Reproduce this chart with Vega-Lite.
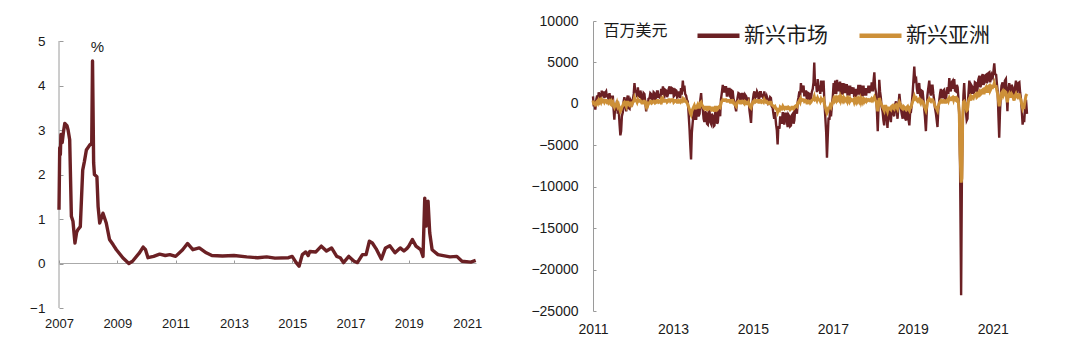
{
"$schema":"https://vega.github.io/schema/vega-lite/v6.json",
"background":"white",
"padding":{"left":29,"top":12,"right":5,"bottom":5},
"bounds":"flush",
"spacing":117,
"config":{"view":{"stroke":null},"font":"Liberation Sans","axis":{"labelFont":"Liberation Sans","labelFontSize":14,"labelColor":"#1a1a1a","domainColor":"#9a9a9a","tickColor":"#9a9a9a","grid":false,"titleFontWeight":"normal","titleColor":"#1a1a1a"}},
"datasets":{
"pct":[
{"d":"2007-01-01","v":1.21},{"d":"2007-01-10","v":2.6},{"d":"2007-01-18","v":2.45},{"d":"2007-01-25","v":2.9},{"d":"2007-02-10","v":2.72},{"d":"2007-02-25","v":2.95},{"d":"2007-03-15","v":3.15},{"d":"2007-04-10","v":3.1},{"d":"2007-04-25","v":3.0},{"d":"2007-05-15","v":2.78},{"d":"2007-06-05","v":1.06},{"d":"2007-06-25","v":0.95},{"d":"2007-07-20","v":0.46},{"d":"2007-08-10","v":0.7},{"d":"2007-08-25","v":0.76},{"d":"2007-09-25","v":0.83},{"d":"2007-10-25","v":2.1},{"d":"2007-11-15","v":2.29},{"d":"2007-12-10","v":2.55},{"d":"2008-01-20","v":2.66},{"d":"2008-02-15","v":2.7},{"d":"2008-02-25","v":4.55},{"d":"2008-03-10","v":2.26},{"d":"2008-03-20","v":2.0},{"d":"2008-04-20","v":1.95},{"d":"2008-05-05","v":1.28},{"d":"2008-05-25","v":0.91},{"d":"2008-07-05","v":1.13},{"d":"2008-08-15","v":0.91},{"d":"2008-09-25","v":0.54},{"d":"2008-11-10","v":0.42},{"d":"2008-12-20","v":0.31},{"d":"2009-03-10","v":0.13},{"d":"2009-05-25","v":0.0},{"d":"2009-07-10","v":0.05},{"d":"2009-10-05","v":0.24},{"d":"2009-11-20","v":0.37},{"d":"2009-12-20","v":0.31},{"d":"2010-01-20","v":0.13},{"d":"2010-04-01","v":0.16},{"d":"2010-06-15","v":0.21},{"d":"2010-08-25","v":0.18},{"d":"2010-10-20","v":0.2},{"d":"2011-01-01","v":0.16},{"d":"2011-03-30","v":0.31},{"d":"2011-05-30","v":0.45},{"d":"2011-08-05","v":0.31},{"d":"2011-10-25","v":0.35},{"d":"2012-01-20","v":0.24},{"d":"2012-03-30","v":0.18},{"d":"2012-08-10","v":0.17},{"d":"2013-01-01","v":0.18},{"d":"2013-06-10","v":0.15},{"d":"2013-10-25","v":0.13},{"d":"2014-02-15","v":0.15},{"d":"2014-05-30","v":0.12},{"d":"2014-11-15","v":0.13},{"d":"2015-01-01","v":0.16},{"d":"2015-02-20","v":0.02},{"d":"2015-03-28","v":-0.06},{"d":"2015-05-08","v":0.2},{"d":"2015-06-20","v":0.26},{"d":"2015-07-20","v":0.18},{"d":"2015-08-10","v":0.27},{"d":"2015-10-25","v":0.26},{"d":"2016-01-01","v":0.39},{"d":"2016-03-05","v":0.28},{"d":"2016-05-08","v":0.35},{"d":"2016-07-12","v":0.16},{"d":"2016-08-25","v":0.13},{"d":"2016-10-05","v":0.02},{"d":"2016-12-10","v":0.16},{"d":"2017-02-14","v":0.05},{"d":"2017-03-28","v":0.02},{"d":"2017-05-30","v":0.2},{"d":"2017-07-15","v":0.2},{"d":"2017-08-25","v":0.5},{"d":"2017-10-01","v":0.46},{"d":"2017-11-18","v":0.33},{"d":"2018-01-22","v":0.1},{"d":"2018-03-15","v":0.35},{"d":"2018-05-08","v":0.4},{"d":"2018-07-12","v":0.24},{"d":"2018-09-15","v":0.35},{"d":"2018-11-01","v":0.28},{"d":"2018-12-10","v":0.34},{"d":"2019-01-01","v":0.39},{"d":"2019-02-15","v":0.54},{"d":"2019-04-01","v":0.39},{"d":"2019-05-30","v":0.31},{"d":"2019-06-28","v":0.16},{"d":"2019-07-20","v":1.47},{"d":"2019-08-05","v":0.84},{"d":"2019-08-30","v":1.4},{"d":"2019-09-20","v":0.69},{"d":"2019-10-20","v":0.31},{"d":"2020-01-01","v":0.2},{"d":"2020-05-30","v":0.15},{"d":"2020-08-25","v":0.16},{"d":"2020-10-28","v":0.05},{"d":"2021-02-15","v":0.03},{"d":"2021-04-18","v":0.07}
],
"flows":[
{"d":"2011-01-01","e":900,"a":400},{"d":"2011-01-08","e":-300,"a":-100},{"d":"2011-01-15","e":400,"a":200},{"d":"2011-01-22","e":-700,"a":-300},
{"d":"2011-02-01","e":600,"a":200},{"d":"2011-02-08","e":1000,"a":300},{"d":"2011-02-15","e":300,"a":100},{"d":"2011-02-22","e":1400,"a":400},
{"d":"2011-03-01","e":800,"a":200},{"d":"2011-03-08","e":1300,"a":400},{"d":"2011-03-15","e":500,"a":200},{"d":"2011-03-22","e":1600,"a":500},
{"d":"2011-04-01","e":900,"a":300},{"d":"2011-04-08","e":1500,"a":400},{"d":"2011-04-15","e":700,"a":200},{"d":"2011-04-22","e":1300,"a":400},
{"d":"2011-05-01","e":1500,"a":400},{"d":"2011-05-08","e":800,"a":200},{"d":"2011-05-15","e":1200,"a":300},{"d":"2011-05-22","e":500,"a":100},
{"d":"2011-06-01","e":1300,"a":300},{"d":"2011-06-08","e":400,"a":100},{"d":"2011-06-15","e":1000,"a":300},{"d":"2011-06-22","e":200,"a":0},
{"d":"2011-07-01","e":1000,"a":200},{"d":"2011-07-08","e":-600,"a":-200},{"d":"2011-07-15","e":-1900,"a":-400},{"d":"2011-07-22","e":-400,"a":-100},
{"d":"2011-08-01","e":-800,"a":-200},{"d":"2011-08-08","e":400,"a":100},{"d":"2011-08-15","e":-1200,"a":-300},{"d":"2011-08-22","e":-300,"a":-100},
{"d":"2011-09-01","e":-2500,"a":-600},{"d":"2011-09-08","e":-3800,"a":-900},{"d":"2011-09-15","e":-3300,"a":-700},{"d":"2011-09-22","e":-1500,"a":-400},
{"d":"2011-10-01","e":-1000,"a":-200},{"d":"2011-10-08","e":300,"a":100},{"d":"2011-10-15","e":800,"a":200},{"d":"2011-10-22","e":-200,"a":0},
{"d":"2011-11-01","e":-900,"a":-300},{"d":"2011-11-08","e":600,"a":200},{"d":"2011-11-15","e":1000,"a":200},{"d":"2011-11-22","e":-500,"a":-100},
{"d":"2011-12-01","e":-600,"a":-200},{"d":"2011-12-08","e":500,"a":100},{"d":"2011-12-15","e":300,"a":100},{"d":"2011-12-22","e":-300,"a":-100},
{"d":"2012-01-01","e":600,"a":200},{"d":"2012-01-08","e":1200,"a":300},{"d":"2012-01-15","e":2500,"a":700},{"d":"2012-01-22","e":1500,"a":400},
{"d":"2012-02-01","e":1500,"a":400},{"d":"2012-02-08","e":800,"a":200},{"d":"2012-02-15","e":2000,"a":500},{"d":"2012-02-22","e":1000,"a":300},
{"d":"2012-03-01","e":900,"a":300},{"d":"2012-03-08","e":1600,"a":400},{"d":"2012-03-15","e":1300,"a":300},{"d":"2012-03-22","e":500,"a":100},
{"d":"2012-04-01","e":400,"a":100},{"d":"2012-04-08","e":1300,"a":300},{"d":"2012-04-15","e":1200,"a":300},{"d":"2012-04-22","e":300,"a":100},
{"d":"2012-05-01","e":-900,"a":-300},{"d":"2012-05-08","e":200,"a":0},{"d":"2012-05-15","e":-400,"a":-200},{"d":"2012-05-22","e":600,"a":100},
{"d":"2012-06-01","e":700,"a":100},{"d":"2012-06-08","e":1300,"a":300},{"d":"2012-06-15","e":1200,"a":300},{"d":"2012-06-22","e":400,"a":100},
{"d":"2012-07-01","e":600,"a":200},{"d":"2012-07-08","e":1400,"a":300},{"d":"2012-07-15","e":1300,"a":300},{"d":"2012-07-22","e":500,"a":100},
{"d":"2012-08-01","e":800,"a":200},{"d":"2012-08-08","e":1500,"a":400},{"d":"2012-08-15","e":1500,"a":400},{"d":"2012-08-22","e":700,"a":200},
{"d":"2012-09-01","e":1200,"a":300},{"d":"2012-09-08","e":600,"a":200},{"d":"2012-09-15","e":1800,"a":500},{"d":"2012-09-22","e":1100,"a":300},
{"d":"2012-10-01","e":2100,"a":600},{"d":"2012-10-08","e":1200,"a":300},{"d":"2012-10-15","e":1000,"a":300},{"d":"2012-10-22","e":1700,"a":400},
{"d":"2012-11-01","e":1600,"a":400},{"d":"2012-11-08","e":800,"a":200},{"d":"2012-11-15","e":1100,"a":300},{"d":"2012-11-22","e":1800,"a":500},
{"d":"2012-12-01","e":2100,"a":500},{"d":"2012-12-08","e":1300,"a":300},{"d":"2012-12-15","e":1300,"a":400},{"d":"2012-12-22","e":1900,"a":500},
{"d":"2013-01-01","e":1800,"a":500},{"d":"2013-01-08","e":900,"a":200},{"d":"2013-01-15","e":1000,"a":300},{"d":"2013-01-22","e":1700,"a":400},
{"d":"2013-02-01","e":1600,"a":400},{"d":"2013-02-08","e":800,"a":200},{"d":"2013-02-15","e":900,"a":200},{"d":"2013-02-22","e":1500,"a":400},
{"d":"2013-03-01","e":1200,"a":300},{"d":"2013-03-08","e":700,"a":200},{"d":"2013-03-15","e":1900,"a":400},{"d":"2013-03-22","e":1100,"a":300},
{"d":"2013-04-01","e":2800,"a":600},{"d":"2013-04-08","e":1500,"a":400},{"d":"2013-04-15","e":2200,"a":500},{"d":"2013-04-22","e":1200,"a":300},
{"d":"2013-05-01","e":1000,"a":300},{"d":"2013-05-08","e":500,"a":100},{"d":"2013-05-15","e":300,"a":0},{"d":"2013-05-22","e":-800,"a":-300},
{"d":"2013-06-01","e":-3000,"a":-700},{"d":"2013-06-08","e":-5000,"a":-1100},{"d":"2013-06-15","e":-6700,"a":-1300},{"d":"2013-06-22","e":-3500,"a":-900},
{"d":"2013-07-01","e":-2100,"a":-600},{"d":"2013-07-08","e":-1200,"a":-400},{"d":"2013-07-15","e":-400,"a":-200},{"d":"2013-07-22","e":-1800,"a":-500},
{"d":"2013-08-01","e":-1800,"a":-500},{"d":"2013-08-08","e":-700,"a":-300},{"d":"2013-08-15","e":-300,"a":-100},{"d":"2013-08-22","e":-1500,"a":-400},
{"d":"2013-09-01","e":-1200,"a":-400},{"d":"2013-09-08","e":500,"a":100},{"d":"2013-09-15","e":1300,"a":200},{"d":"2013-09-22","e":-200,"a":-100},
{"d":"2013-10-01","e":-800,"a":-300},{"d":"2013-10-08","e":-1800,"a":-500},{"d":"2013-10-15","e":-2200,"a":-600},{"d":"2013-10-22","e":-900,"a":-400},
{"d":"2013-11-01","e":-1200,"a":-400},{"d":"2013-11-08","e":-2400,"a":-700},{"d":"2013-11-15","e":-2500,"a":-700},{"d":"2013-11-22","e":-1000,"a":-400},
{"d":"2013-12-01","e":-900,"a":-400},{"d":"2013-12-08","e":-2200,"a":-600},{"d":"2013-12-15","e":-2400,"a":-700},{"d":"2013-12-22","e":-1200,"a":-500},
{"d":"2014-01-01","e":-1500,"a":-500},{"d":"2014-01-08","e":-2700,"a":-800},{"d":"2014-01-15","e":-2600,"a":-800},{"d":"2014-01-22","e":-1100,"a":-400},
{"d":"2014-02-01","e":-1000,"a":-400},{"d":"2014-02-08","e":-2400,"a":-700},{"d":"2014-02-15","e":-2200,"a":-600},{"d":"2014-02-22","e":-900,"a":-400},
{"d":"2014-03-01","e":-800,"a":-300},{"d":"2014-03-08","e":-1500,"a":-400},{"d":"2014-03-15","e":500,"a":0},{"d":"2014-03-22","e":1200,"a":300},
{"d":"2014-04-01","e":2300,"a":500},{"d":"2014-04-08","e":1500,"a":400},{"d":"2014-04-15","e":1500,"a":400},{"d":"2014-04-22","e":2000,"a":500},
{"d":"2014-05-01","e":2000,"a":500},{"d":"2014-05-08","e":1000,"a":300},{"d":"2014-05-15","e":1000,"a":300},{"d":"2014-05-22","e":1800,"a":400},
{"d":"2014-06-01","e":1800,"a":400},{"d":"2014-06-08","e":900,"a":200},{"d":"2014-06-15","e":700,"a":200},{"d":"2014-06-22","e":1600,"a":400},
{"d":"2014-07-01","e":1500,"a":400},{"d":"2014-07-08","e":600,"a":100},{"d":"2014-07-15","e":300,"a":100},{"d":"2014-07-22","e":-200,"a":-100},
{"d":"2014-08-01","e":-900,"a":-300},{"d":"2014-08-08","e":200,"a":0},{"d":"2014-08-15","e":800,"a":200},{"d":"2014-08-22","e":1300,"a":300},
{"d":"2014-09-01","e":1200,"a":300},{"d":"2014-09-08","e":500,"a":100},{"d":"2014-09-15","e":600,"a":100},{"d":"2014-09-22","e":1200,"a":300},
{"d":"2014-10-01","e":1200,"a":300},{"d":"2014-10-08","e":400,"a":100},{"d":"2014-10-15","e":300,"a":0},{"d":"2014-10-22","e":1100,"a":300},
{"d":"2014-11-01","e":900,"a":200},{"d":"2014-11-08","e":200,"a":0},{"d":"2014-11-15","e":200,"a":0},{"d":"2014-11-22","e":800,"a":200},
{"d":"2014-12-01","e":-800,"a":-200},{"d":"2014-12-08","e":-1500,"a":-400},{"d":"2014-12-15","e":-2300,"a":-500},{"d":"2014-12-22","e":-400,"a":-100},
{"d":"2015-01-01","e":500,"a":200},{"d":"2015-01-08","e":1200,"a":300},{"d":"2015-01-15","e":1500,"a":400},{"d":"2015-01-22","e":700,"a":200},
{"d":"2015-02-01","e":900,"a":300},{"d":"2015-02-08","e":1500,"a":400},{"d":"2015-02-15","e":1300,"a":400},{"d":"2015-02-22","e":600,"a":200},
{"d":"2015-03-01","e":700,"a":200},{"d":"2015-03-08","e":1400,"a":400},{"d":"2015-03-15","e":1400,"a":400},{"d":"2015-03-22","e":800,"a":200},
{"d":"2015-04-01","e":1200,"a":300},{"d":"2015-04-08","e":600,"a":200},{"d":"2015-04-15","e":1500,"a":500},{"d":"2015-04-22","e":900,"a":300},
{"d":"2015-05-01","e":500,"a":200},{"d":"2015-05-08","e":900,"a":300},{"d":"2015-05-15","e":600,"a":200},{"d":"2015-05-22","e":100,"a":0},
{"d":"2015-06-01","e":300,"a":0},{"d":"2015-06-08","e":800,"a":200},{"d":"2015-06-15","e":700,"a":200},{"d":"2015-06-22","e":-300,"a":-100},
{"d":"2015-07-01","e":-500,"a":-200},{"d":"2015-07-08","e":-1200,"a":-300},{"d":"2015-07-15","e":-1800,"a":-400},{"d":"2015-07-22","e":-1000,"a":-300},
{"d":"2015-08-01","e":-2500,"a":-600},{"d":"2015-08-08","e":-3200,"a":-700},{"d":"2015-08-15","e":-4900,"a":-1000},{"d":"2015-08-22","e":-2700,"a":-700},
{"d":"2015-09-01","e":-3000,"a":-800},{"d":"2015-09-08","e":-1500,"a":-400},{"d":"2015-09-15","e":-1800,"a":-500},{"d":"2015-09-22","e":-2400,"a":-600},
{"d":"2015-10-01","e":-1000,"a":-300},{"d":"2015-10-08","e":-2000,"a":-500},{"d":"2015-10-15","e":-2500,"a":-600},{"d":"2015-10-22","e":-1200,"a":-400},
{"d":"2015-11-01","e":-1200,"a":-400},{"d":"2015-11-08","e":-2200,"a":-600},{"d":"2015-11-15","e":-2800,"a":-600},{"d":"2015-11-22","e":-1300,"a":-400},
{"d":"2015-12-01","e":-1500,"a":-500},{"d":"2015-12-08","e":-2700,"a":-700},{"d":"2015-12-15","e":-2600,"a":-600},{"d":"2015-12-22","e":-1400,"a":-400},
{"d":"2016-01-01","e":-1200,"a":-400},{"d":"2016-01-08","e":-2400,"a":-600},{"d":"2016-01-15","e":-2000,"a":-500},{"d":"2016-01-22","e":-800,"a":-300},
{"d":"2016-02-01","e":-600,"a":-200},{"d":"2016-02-08","e":-1200,"a":-300},{"d":"2016-02-15","e":300,"a":100},{"d":"2016-02-22","e":800,"a":200},
{"d":"2016-03-01","e":1500,"a":400},{"d":"2016-03-08","e":800,"a":200},{"d":"2016-03-15","e":2500,"a":600},{"d":"2016-03-22","e":1400,"a":400},
{"d":"2016-04-01","e":1800,"a":500},{"d":"2016-04-08","e":2200,"a":500},{"d":"2016-04-15","e":900,"a":300},{"d":"2016-04-22","e":1500,"a":400},
{"d":"2016-05-01","e":1500,"a":400},{"d":"2016-05-08","e":500,"a":100},{"d":"2016-05-15","e":600,"a":100},{"d":"2016-05-22","e":1300,"a":300},
{"d":"2016-06-01","e":1200,"a":300},{"d":"2016-06-08","e":300,"a":100},{"d":"2016-06-15","e":600,"a":200},{"d":"2016-06-22","e":1400,"a":400},
{"d":"2016-07-01","e":1800,"a":500},{"d":"2016-07-08","e":2600,"a":600},{"d":"2016-07-15","e":5000,"a":900},{"d":"2016-07-22","e":2200,"a":500},
{"d":"2016-08-01","e":2500,"a":600},{"d":"2016-08-08","e":1400,"a":400},{"d":"2016-08-15","e":3000,"a":700},{"d":"2016-08-22","e":1800,"a":500},
{"d":"2016-09-01","e":2000,"a":500},{"d":"2016-09-08","e":1200,"a":300},{"d":"2016-09-15","e":2800,"a":600},{"d":"2016-09-22","e":1500,"a":400},
{"d":"2016-10-01","e":2200,"a":500},{"d":"2016-10-08","e":2800,"a":600},{"d":"2016-10-15","e":400,"a":0},{"d":"2016-10-22","e":-1200,"a":-300},
{"d":"2016-11-01","e":-3500,"a":-800},{"d":"2016-11-08","e":-6500,"a":-1100},{"d":"2016-11-15","e":-4000,"a":-900},{"d":"2016-11-22","e":-1800,"a":-500},
{"d":"2016-12-01","e":-1800,"a":-500},{"d":"2016-12-08","e":-600,"a":-200},{"d":"2016-12-15","e":-1500,"a":-400},{"d":"2016-12-22","e":-400,"a":-100},
{"d":"2017-01-01","e":1000,"a":300},{"d":"2017-01-08","e":2500,"a":600},{"d":"2017-01-15","e":1200,"a":400},{"d":"2017-01-22","e":2800,"a":700},
{"d":"2017-02-01","e":1200,"a":400},{"d":"2017-02-08","e":2900,"a":700},{"d":"2017-02-15","e":1500,"a":500},{"d":"2017-02-22","e":2600,"a":700},
{"d":"2017-03-01","e":1500,"a":500},{"d":"2017-03-08","e":2700,"a":800},{"d":"2017-03-15","e":1100,"a":400},{"d":"2017-03-22","e":2500,"a":700},
{"d":"2017-04-01","e":1100,"a":400},{"d":"2017-04-08","e":2500,"a":700},{"d":"2017-04-15","e":1300,"a":400},{"d":"2017-04-22","e":2400,"a":600},
{"d":"2017-05-01","e":1300,"a":400},{"d":"2017-05-08","e":2400,"a":600},{"d":"2017-05-15","e":1000,"a":300},{"d":"2017-05-22","e":2200,"a":600},
{"d":"2017-06-01","e":1000,"a":300},{"d":"2017-06-08","e":2200,"a":600},{"d":"2017-06-15","e":1200,"a":400},{"d":"2017-06-22","e":2000,"a":500},
{"d":"2017-07-01","e":1200,"a":400},{"d":"2017-07-08","e":2000,"a":500},{"d":"2017-07-15","e":800,"a":200},{"d":"2017-07-22","e":1800,"a":500},
{"d":"2017-08-01","e":800,"a":200},{"d":"2017-08-08","e":1800,"a":500},{"d":"2017-08-15","e":1100,"a":300},{"d":"2017-08-22","e":2300,"a":600},
{"d":"2017-09-01","e":1100,"a":300},{"d":"2017-09-08","e":2300,"a":600},{"d":"2017-09-15","e":900,"a":200},{"d":"2017-09-22","e":2200,"a":500},
{"d":"2017-10-01","e":900,"a":200},{"d":"2017-10-08","e":2200,"a":500},{"d":"2017-10-15","e":1000,"a":300},{"d":"2017-10-22","e":1900,"a":500},
{"d":"2017-11-01","e":1000,"a":300},{"d":"2017-11-08","e":1900,"a":500},{"d":"2017-11-15","e":1300,"a":400},{"d":"2017-11-22","e":2200,"a":500},
{"d":"2017-12-01","e":1300,"a":400},{"d":"2017-12-08","e":2200,"a":500},{"d":"2017-12-15","e":1500,"a":400},{"d":"2017-12-22","e":2600,"a":600},
{"d":"2018-01-01","e":1500,"a":400},{"d":"2018-01-08","e":2800,"a":600},{"d":"2018-01-15","e":3800,"a":800},{"d":"2018-01-22","e":2000,"a":500},
{"d":"2018-02-01","e":1200,"a":300},{"d":"2018-02-08","e":-1000,"a":-300},{"d":"2018-02-15","e":-3300,"a":-900},{"d":"2018-02-22","e":-500,"a":-200},
{"d":"2018-03-01","e":2900,"a":700},{"d":"2018-03-08","e":1500,"a":400},{"d":"2018-03-15","e":800,"a":100},{"d":"2018-03-22","e":-300,"a":-100},
{"d":"2018-04-01","e":-1000,"a":-400},{"d":"2018-04-08","e":-2000,"a":-600},{"d":"2018-04-15","e":-2600,"a":-800},{"d":"2018-04-22","e":-800,"a":-300},
{"d":"2018-05-01","e":-500,"a":-300},{"d":"2018-05-08","e":-1800,"a":-600},{"d":"2018-05-15","e":-2900,"a":-900},{"d":"2018-05-22","e":-1200,"a":-500},
{"d":"2018-06-01","e":-800,"a":-500},{"d":"2018-06-08","e":-1700,"a":-600},{"d":"2018-06-15","e":-2200,"a":-700},{"d":"2018-06-22","e":-600,"a":-300},
{"d":"2018-07-01","e":-300,"a":-200},{"d":"2018-07-08","e":-1200,"a":-500},{"d":"2018-07-15","e":-1500,"a":-600},{"d":"2018-07-22","e":-200,"a":-200},
{"d":"2018-08-01","e":300,"a":-100},{"d":"2018-08-08","e":-900,"a":-400},{"d":"2018-08-15","e":-1800,"a":-600},{"d":"2018-08-22","e":-400,"a":-200},
{"d":"2018-09-01","e":1200,"a":200},{"d":"2018-09-08","e":200,"a":0},{"d":"2018-09-15","e":-600,"a":-300},{"d":"2018-09-22","e":-1200,"a":-500},
{"d":"2018-10-01","e":-1800,"a":-600},{"d":"2018-10-08","e":-700,"a":-300},{"d":"2018-10-15","e":-900,"a":-400},{"d":"2018-10-22","e":-1700,"a":-600},
{"d":"2018-11-01","e":-2000,"a":-700},{"d":"2018-11-08","e":-900,"a":-400},{"d":"2018-11-15","e":-700,"a":-300},{"d":"2018-11-22","e":-1800,"a":-600},
{"d":"2018-12-01","e":-2600,"a":-800},{"d":"2018-12-08","e":-1100,"a":-400},{"d":"2018-12-15","e":-1000,"a":-400},{"d":"2018-12-22","e":-200,"a":-100},
{"d":"2019-01-01","e":1500,"a":300},{"d":"2019-01-08","e":3000,"a":600},{"d":"2019-01-15","e":4500,"a":900},{"d":"2019-01-22","e":2800,"a":600},
{"d":"2019-02-01","e":3000,"a":700},{"d":"2019-02-08","e":1800,"a":400},{"d":"2019-02-15","e":1200,"a":300},{"d":"2019-02-22","e":2200,"a":500},
{"d":"2019-03-01","e":2500,"a":600},{"d":"2019-03-08","e":1200,"a":300},{"d":"2019-03-15","e":500,"a":100},{"d":"2019-03-22","e":1600,"a":400},
{"d":"2019-04-01","e":1500,"a":300},{"d":"2019-04-08","e":600,"a":100},{"d":"2019-04-15","e":-500,"a":-300},{"d":"2019-04-22","e":-1500,"a":-500},
{"d":"2019-05-01","e":-3300,"a":-800},{"d":"2019-05-08","e":-1200,"a":-400},{"d":"2019-05-15","e":1000,"a":200},{"d":"2019-05-22","e":1800,"a":400},
{"d":"2019-06-01","e":2800,"a":600},{"d":"2019-06-08","e":1500,"a":400},{"d":"2019-06-15","e":1000,"a":300},{"d":"2019-06-22","e":2200,"a":500},
{"d":"2019-07-01","e":2200,"a":500},{"d":"2019-07-08","e":1200,"a":300},{"d":"2019-07-15","e":500,"a":100},{"d":"2019-07-22","e":-400,"a":-200},
{"d":"2019-08-01","e":-1200,"a":-500},{"d":"2019-08-08","e":-2000,"a":-600},{"d":"2019-08-15","e":-2800,"a":-800},{"d":"2019-08-22","e":-800,"a":-300},
{"d":"2019-09-01","e":500,"a":100},{"d":"2019-09-08","e":1300,"a":300},{"d":"2019-09-15","e":1800,"a":400},{"d":"2019-09-22","e":800,"a":200},
{"d":"2019-10-01","e":800,"a":200},{"d":"2019-10-08","e":1600,"a":400},{"d":"2019-10-15","e":1700,"a":400},{"d":"2019-10-22","e":700,"a":200},
{"d":"2019-11-01","e":600,"a":200},{"d":"2019-11-08","e":1500,"a":400},{"d":"2019-11-15","e":2000,"a":500},{"d":"2019-11-22","e":1200,"a":300},
{"d":"2019-12-01","e":3100,"a":700},{"d":"2019-12-08","e":2000,"a":500},{"d":"2019-12-15","e":1500,"a":500},{"d":"2019-12-22","e":2600,"a":700},
{"d":"2020-01-01","e":2800,"a":800},{"d":"2020-01-08","e":1800,"a":500},{"d":"2020-01-15","e":3000,"a":900},{"d":"2020-01-22","e":1600,"a":500},
{"d":"2020-02-01","e":1500,"a":400},{"d":"2020-02-08","e":2300,"a":700},{"d":"2020-02-15","e":2000,"a":600},{"d":"2020-02-22","e":800,"a":200},
{"d":"2020-03-01","e":-1500,"a":-1000},{"d":"2020-03-08","e":-7000,"a":-6000},{"d":"2020-03-18","e":-23100,"a":-9500},{"d":"2020-03-25","e":-9000,"a":-9000},
{"d":"2020-04-01","e":-2500,"a":-2000},{"d":"2020-04-08","e":1000,"a":200},{"d":"2020-04-15","e":2500,"a":300},{"d":"2020-04-22","e":500,"a":100},
{"d":"2020-05-01","e":-1000,"a":-500},{"d":"2020-05-08","e":-2000,"a":-800},{"d":"2020-05-15","e":-1800,"a":-700},{"d":"2020-05-22","e":800,"a":200},
{"d":"2020-06-01","e":2800,"a":600},{"d":"2020-06-08","e":1800,"a":800},{"d":"2020-06-15","e":1200,"a":400},{"d":"2020-06-22","e":2200,"a":900},
{"d":"2020-07-01","e":2000,"a":800},{"d":"2020-07-08","e":1200,"a":700},{"d":"2020-07-15","e":1500,"a":1000},{"d":"2020-07-22","e":2600,"a":1100},
{"d":"2020-08-01","e":2500,"a":1200},{"d":"2020-08-08","e":1400,"a":800},{"d":"2020-08-15","e":1800,"a":900},{"d":"2020-08-22","e":2900,"a":1300},
{"d":"2020-09-01","e":3400,"a":1500},{"d":"2020-09-08","e":2000,"a":1100},{"d":"2020-09-15","e":2200,"a":1200},{"d":"2020-09-22","e":3200,"a":1600},
{"d":"2020-10-01","e":3600,"a":1700},{"d":"2020-10-08","e":2300,"a":1300},{"d":"2020-10-15","e":2500,"a":1300},{"d":"2020-10-22","e":3400,"a":1800},
{"d":"2020-11-01","e":3500,"a":2000},{"d":"2020-11-08","e":2500,"a":1500},{"d":"2020-11-15","e":2800,"a":1500},{"d":"2020-11-22","e":3700,"a":2100},
{"d":"2020-12-01","e":3800,"a":2200},{"d":"2020-12-08","e":2600,"a":1600},{"d":"2020-12-15","e":3000,"a":1800},{"d":"2020-12-22","e":3500,"a":2100},
{"d":"2021-01-01","e":3200,"a":2000},{"d":"2021-01-08","e":4000,"a":2200},{"d":"2021-01-15","e":4900,"a":2500},{"d":"2021-01-22","e":3600,"a":2100},
{"d":"2021-02-01","e":3500,"a":2100},{"d":"2021-02-08","e":2400,"a":1600},{"d":"2021-02-15","e":1500,"a":1200},{"d":"2021-02-22","e":-1500,"a":400},
{"d":"2021-03-01","e":-4100,"a":-300},{"d":"2021-03-08","e":-1000,"a":300},{"d":"2021-03-15","e":1000,"a":800},{"d":"2021-03-22","e":2200,"a":1300},
{"d":"2021-04-01","e":2600,"a":1500},{"d":"2021-04-08","e":1500,"a":1000},{"d":"2021-04-15","e":1800,"a":1200},{"d":"2021-04-22","e":2800,"a":1500},
{"d":"2021-05-01","e":3000,"a":1400},{"d":"2021-05-08","e":1200,"a":800},{"d":"2021-05-15","e":-900,"a":200},{"d":"2021-05-22","e":1500,"a":900},
{"d":"2021-06-01","e":2500,"a":1200},{"d":"2021-06-08","e":1500,"a":900},{"d":"2021-06-15","e":1500,"a":900},{"d":"2021-06-22","e":2300,"a":1200},
{"d":"2021-07-01","e":2000,"a":1000},{"d":"2021-07-08","e":1000,"a":700},{"d":"2021-07-15","e":500,"a":400},{"d":"2021-07-22","e":1800,"a":900},
{"d":"2021-08-01","e":2800,"a":1200},{"d":"2021-08-08","e":1600,"a":900},{"d":"2021-08-15","e":1500,"a":800},{"d":"2021-08-22","e":2500,"a":1100},
{"d":"2021-09-01","e":2600,"a":1100},{"d":"2021-09-08","e":1400,"a":700},{"d":"2021-09-15","e":700,"a":500},{"d":"2021-09-22","e":-500,"a":0},
{"d":"2021-10-01","e":-2500,"a":-500},{"d":"2021-10-08","e":-1500,"a":-200},{"d":"2021-10-15","e":-2200,"a":-300},{"d":"2021-10-22","e":-800,"a":300},
{"d":"2021-11-01","e":500,"a":1000},{"d":"2021-11-10","e":-1200,"a":1200}
]
},
"hconcat":[
{
"width":417,"height":287,
"layer":[
{"data":{"values":[{}]},"mark":{"type":"rule","color":"#9a9a9a","strokeWidth":1},"encoding":{"x":{"datum":{"year":2007,"month":1,"date":1},"type":"temporal"},"y":{"datum":-1,"type":"quantitative"},"y2":{"datum":5}}},
{"data":{"name":"pct"},"mark":{"type":"line","color":"#6b2024","strokeWidth":3.4,"strokeJoin":"round"},
"encoding":{
"x":{"field":"d","type":"temporal","scale":{"domain":["2007-01-01","2021-04-22"]},"axis":{"title":null,"values":[{"year":2007,"month":1,"date":1},{"year":2009,"month":1,"date":1},{"year":2011,"month":1,"date":1},{"year":2013,"month":1,"date":1},{"year":2015,"month":1,"date":1},{"year":2017,"month":1,"date":1},{"year":2019,"month":1,"date":1},{"year":2021,"month":1,"date":1}],"format":"%Y","offset":-45,"domainColor":"#aaaaaa","tickSize":-3,"labelPadding":57,"labelFontSize":13,"labelFlush":false,"labelOverlap":false}},
"y":{"field":"v","type":"quantitative","scale":{"domain":[-1,5.45],"nice":false,"zero":false},"axis":{"values":[-1,0,1,2,3,4,5],"domain":false,"tickSize":-4,"labelPadding":18,"labelFontSize":13.5,"title":"%","titleAngle":0,"titleX":38,"titleY":25,"titleAlign":"center","titleBaseline":"middle","titleFont":"Liberation Sans","titleFontSize":15}}
}}
]
},
{
"width":434,"height":290,
"data":{"name":"flows"},
"layer":[
{"mark":{"type":"line","strokeWidth":2.4},
"encoding":{
"x":{"field":"d","type":"temporal","scale":{"domain":["2011-01-01","2021-11-10"]},"axis":{"title":null,"values":[{"year":2011,"month":1,"date":1},{"year":2013,"month":1,"date":1},{"year":2015,"month":1,"date":1},{"year":2017,"month":1,"date":1},{"year":2019,"month":1,"date":1},{"year":2021,"month":1,"date":1}],"format":"%Y","domain":false,"ticks":false,"labelPadding":11,"labelFlush":false,"labelOverlap":false}},
"y":{"field":"e","type":"quantitative","scale":{"domain":[-25000,10000],"nice":false},"axis":{"values":[-25000,-20000,-15000,-10000,-5000,0,5000,10000],"format":"d","tickSize":-3,"labelPadding":18,"title":"百万美元","titleAngle":0,"titleX":10,"titleY":9,"titleAlign":"left","titleBaseline":"middle","titleFont":"Noto Sans CJK SC","titleFontSize":16}},
"color":{"datum":"新兴市场","scale":{"domain":["新兴市场","新兴亚洲"],"range":["#6b2024","#cd9038"]},"legend":{"orient":"none","legendX":636,"legendY":-9,"direction":"horizontal","title":null,"symbolType":"stroke","symbolSize":1764,"symbolStrokeWidth":4.5,"labelFont":"Noto Sans CJK SC","labelFontSize":21,"labelColor":"#1a1a1a","labelOffset":2,"columnPadding":22}}
}},
{"mark":{"type":"line","strokeWidth":3},
"encoding":{
"x":{"field":"d","type":"temporal"},
"y":{"field":"a","type":"quantitative","axis":{"values":[-25000,-20000,-15000,-10000,-5000,0,5000,10000],"format":"d","tickSize":-3,"labelPadding":18,"title":"百万美元","titleAngle":0,"titleX":10,"titleY":9,"titleAlign":"left","titleBaseline":"middle","titleFont":"Noto Sans CJK SC","titleFontSize":16}},
"color":{"datum":"新兴亚洲"}
}}
]
}
]
}
